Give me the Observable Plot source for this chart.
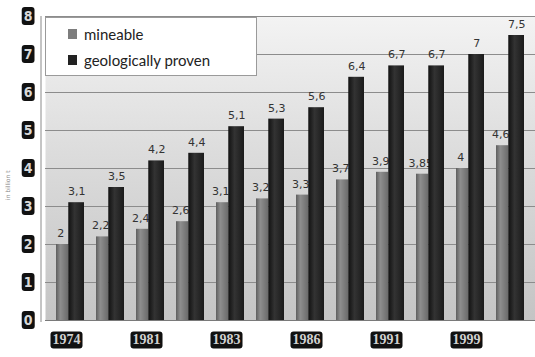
<!DOCTYPE html>
<html>
<head>
<meta charset="utf-8">
<script src="https://cdn.jsdelivr.net/npm/d3@7"></script>
<script src="https://cdn.jsdelivr.net/npm/@observablehq/plot@0.6"></script>
<style>
  html, body { margin: 0; padding: 0; background: #ffffff; }
  #wrap { position: relative; width: 535px; height: 357px; overflow: hidden; }
  #legend {
    position: absolute; left: 45px; top: 17px; width: 212px; height: 59px;
    background: #ffffff; border: 1px solid #9a9a9a; box-sizing: border-box;
    font-family: "Lato", "DejaVu Sans", sans-serif; font-size: 15px; color: #222;
  }
  .lg-row { position: absolute; left: 22px; display: flex; align-items: center; }
  .lg-sw { width: 9px; height: 10px; margin-right: 7px; }
  #ytitle {
    position: absolute; left: 4px; top: 200px; transform: rotate(-90deg); transform-origin: left top;
    font-family: "DejaVu Sans", sans-serif; font-size: 6px; color: #888; white-space: nowrap;
  }
</style>
</head>
<body>
<div id="wrap"></div>
<script>
// ---- data ----
const seriesNames = ["mineable", "geologically proven"];
const groupIds = ["g01","g02","g03","g04","g05","g06","g07","g08","g09","g10","g11","g12"];
const xTickLabels = ["1974", "1981", "1983", "1986", "1991", "1999"]; // shown under every other group
const mineable = [2, 2.2, 2.4, 2.6, 3.1, 3.2, 3.3, 3.7, 3.9, 3.85, 4, 4.6];
const proven   = [3.1, 3.5, 4.2, 4.4, 5.1, 5.3, 5.6, 6.4, 6.7, 6.7, 7, 7.5];
const yTicks = [0, 1, 2, 3, 4, 5, 6, 7, 8];
const yTitle = "in billion t";

const mineData = groupIds.map((g, i) => ({group: g, value: mineable[i], series: seriesNames[0]}));
const provData = groupIds.map((g, i) => ({group: g, value: proven[i], series: seriesNames[1]}));

const W = 535, H = 357, mL = 45, mR = 0, mT = 16, mB = 37;
const pInner = 0.312, pOuter = 0.197;
const step = (W - mL - mR) / (groupIds.length - pInner + 2 * pOuter);
const bw = step * (1 - pInner);
const wMine = bw * 0.44, wProv = bw - wMine;
const fmt = v => String(v).replace(".", ",");

const chart = Plot.plot({
  width: W, height: H,
  marginLeft: mL, marginRight: mR, marginTop: mT, marginBottom: mB,
  style: {fontFamily: "DejaVu Sans, sans-serif", background: "transparent"},
  x: {domain: groupIds, paddingInner: pInner, paddingOuter: pOuter, label: null},
  y: {domain: [0, 8], label: null},
  marks: [
    Plot.frame({fill: "url(#bgGrad)", stroke: "none"}),
    Plot.gridY(yTicks, {stroke: "#8c8c8c", strokeOpacity: 1, strokeWidth: 1}),
    Plot.barY(mineData, {x: "group", y: "value", insetRight: wProv, insetLeft: 0, fill: "url(#mineGrad)"}),
    Plot.text(mineData, {x: "group", y: "value", text: d => fmt(d.value), dx: -bw / 2 + wMine / 2 - 2, dy: -11, fontSize: 11, fill: "#333"}),
    Plot.barY(provData, {x: "group", y: "value", insetLeft: wMine, insetRight: 0, fill: "url(#provGrad)"}),
    Plot.ruleY([0], {stroke: "#7a7a7a"}),
    Plot.text(provData, {x: "group", y: "value", text: d => fmt(d.value), dx: bw / 2 - wProv / 2, dy: -11, fontSize: 11, fill: "#333"}),
    Plot.axisY(yTicks, {tickSize: 0, tickPadding: 13, fontSize: 14, fontWeight: "bold", fill: "#d8d8d8",
      fontFamily: "Liberation Sans Narrow, DejaVu Sans Condensed, sans-serif", label: null}),
    Plot.axisX({tickSize: 0, tickPadding: 14, dx: -4, fontSize: 14, fontWeight: "bold", fill: "#d0d0d0",
      fontFamily: "Liberation Serif, serif", label: null,
      tickFormat: g => { const i = groupIds.indexOf(g); return i % 2 === 0 ? xTickLabels[i / 2] : ""; }})
  ]
});

const wrap = document.getElementById("wrap");
wrap.appendChild(chart);

// gradients
const svg = d3.select(chart);
const defs = svg.insert("defs", ":first-child");
function grad(id, stops, vertical) {
  const g = defs.append("linearGradient").attr("id", id)
    .attr("x1", 0).attr("y1", 0).attr("x2", vertical ? 0 : 1).attr("y2", vertical ? 1 : 0);
  stops.forEach(([o, c]) => g.append("stop").attr("offset", o).attr("stop-color", c));
}
grad("bgGrad", [[0, "#f3f3f3"], [0.45, "#dcdcdc"], [1, "#c4c4c4"]], true);
grad("mineGrad", [[0, "#5e5e5e"], [0.35, "#8e8e8e"], [1, "#6a6a6a"]], false);
grad("provGrad", [[0, "#111"], [0.4, "#333"], [1, "#1a1a1a"]], false);

// left axis line
svg.append("line").attr("x1", mL - 4).attr("x2", mL - 4).attr("y1", mT).attr("y2", H - mB + 2)
  .attr("stroke", "#8a8a8a");

// black rounded boxes behind tick labels
svg.selectAll('[aria-label="y-axis tick label"] text, [aria-label="x-axis tick label"] text').each(function () {
  const b = this.getBBox();
  if (!b.width) return;
  d3.select(this.parentNode).insert("rect", () => this)
    .attr("x", b.x - 2).attr("y", b.y - 1).attr("width", b.width + 4).attr("height", b.height + 2)
    .attr("rx", 3).attr("fill", "#111")
    .attr("transform", this.getAttribute("transform"));
});

// legend
const legend = document.createElement("div");
legend.id = "legend";
legend.innerHTML =
  `<div class="lg-row" style="top:7px"><span class="lg-sw" style="background:#7d7d7d"></span>${seriesNames[0]}</div>` +
  `<div class="lg-row" style="top:33px"><span class="lg-sw" style="background:#222"></span>${seriesNames[1]}</div>`;
wrap.appendChild(legend);

const yt = document.createElement("div");
yt.id = "ytitle";
yt.textContent = yTitle;
wrap.appendChild(yt);
</script>
</body>
</html>
